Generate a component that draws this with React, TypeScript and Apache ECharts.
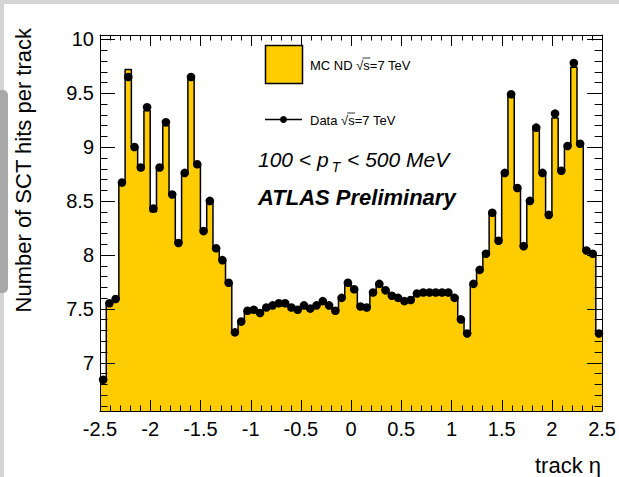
import React, { useEffect, useRef } from "react";
import * as echarts from "echarts";

// Histogram binning in track eta
const etaMin = -2.5;
const etaMax = 2.5;
const binWidth = 0.0625;

// Mean number of SCT hits per track, data (points)
const dataValues = [
  6.84, 7.55, 7.59, 8.67, 9.65, 9.0, 8.81, 9.37, 8.43, 8.81,
  9.23, 8.56, 8.11, 8.76, 9.65, 8.84, 8.22, 8.5, 8.06, 7.95,
  7.74, 7.28, 7.38, 7.48, 7.49, 7.46, 7.51, 7.53, 7.55, 7.55,
  7.51, 7.49, 7.53, 7.5, 7.53, 7.57, 7.53, 7.48, 7.6, 7.74,
  7.68, 7.52, 7.51, 7.65, 7.73, 7.67, 7.62, 7.6, 7.57, 7.58,
  7.64, 7.65, 7.65, 7.65, 7.65, 7.65, 7.6, 7.4, 7.27, 7.73,
  7.86, 8.01, 8.39, 8.13, 8.76, 9.49, 8.62, 8.08, 8.5, 9.18,
  8.76, 8.37, 9.31, 8.78, 9.01, 9.78, 9.03, 8.04, 8.01, 7.27,
];

// Mean number of SCT hits per track, MC non-diffractive (filled histogram)
const mcValues = [
  6.84, 7.55, 7.59, 8.67, 9.72, 9.0, 8.81, 9.34, 8.4, 8.81,
  9.2, 8.56, 8.11, 8.76, 9.63, 8.84, 8.22, 8.5, 8.06, 7.95,
  7.74, 7.28, 7.38, 7.48, 7.49, 7.46, 7.51, 7.53, 7.55, 7.55,
  7.51, 7.49, 7.53, 7.5, 7.53, 7.57, 7.53, 7.48, 7.6, 7.74,
  7.68, 7.52, 7.51, 7.65, 7.73, 7.67, 7.62, 7.6, 7.57, 7.58,
  7.64, 7.65, 7.65, 7.65, 7.65, 7.65, 7.6, 7.4, 7.27, 7.73,
  7.86, 8.01, 8.39, 8.13, 8.76, 9.49, 8.62, 8.08, 8.5, 9.18,
  8.76, 8.37, 9.27, 8.78, 9.01, 9.74, 9.03, 8.04, 8.01, 7.27,
];

const yMin = 6.55;
const yMax = 10.04;

// Tick marks: major every 0.5, minor every 0.1 (values in tenths)
const xTickTenths: number[] = [];
for (let k = -25; k <= 25; k++) xTickTenths.push(k);
const yTickTenths: number[] = [];
for (let k = 66; k <= 100; k++) yTickTenths.push(k);

const FONT = "Liberation Sans";
const FILL = "#ffcc00";

function textWidth(text: string, font: string): number {
  const ctx = document.createElement("canvas").getContext("2d");
  if (!ctx) return text.length * 8;
  ctx.font = font;
  return ctx.measureText(text).width;
}

const px = (v: number) => Math.round(v) + 0.5;

export default function App() {
  const ref = useRef<HTMLDivElement>(null);

  useEffect(() => {
    if (!ref.current) return;
    const chart = echarts.init(ref.current, undefined, { renderer: "svg" });

    // outline of the MC histogram: one flat segment per bin
    const stepData: number[][] = [];
    mcValues.forEach((v, i) => {
      const lo = etaMin + i * binWidth;
      stepData.push([lo, v], [lo + binWidth, v]);
    });
    const points = dataValues.map((v, i) => [etaMin + (i + 0.5) * binWidth, v]);

    const halfStep = (v: number) => Math.abs(v * 2 - Math.round(v * 2)) < 1e-6;

    const xAxisBase = {
      type: "value" as const,
      min: etaMin,
      max: etaMax,
      interval: 0.5,
      z: 10,
      axisLine: { show: true, onZero: false, lineStyle: { color: "#000", width: 1 } },
      axisTick: { show: false },
      minorTick: { show: false },
      splitLine: { show: false },
    };
    const yAxisBase = {
      type: "value" as const,
      min: yMin,
      max: yMax,
      splitNumber: 7,
      minInterval: 0.5,
      maxInterval: 0.5,
      z: 10,
      axisLine: { show: true, onZero: false, lineStyle: { color: "#000", width: 1 } },
      axisTick: { show: false },
      minorTick: { show: false },
      splitLine: { show: false },
    };

    const ptFont = `italic 21px "${FONT}"`;
    const subFont = `italic 14px "${FONT}"`;
    const ptX = 258;
    const w1 = textWidth("100 < p", ptFont);
    const wT = textWidth("T", subFont);

    const legFont = `13px "${FONT}"`;
    const wRoot = textWidth("MC ND \u221a", legFont);
    const wS = textWidth("s", legFont);
    const wRoot2 = textWidth("Data \u221a", legFont);

    const graphicEls: any[] = [
      // page edges
      { type: "rect", shape: { x: 0, y: 0, width: 619, height: 4 }, style: { fill: "#d4d4d4" }, silent: true },
      { type: "rect", shape: { x: 0, y: 0, width: 4, height: 477 }, style: { fill: "#d4d4d4" }, silent: true },
      { type: "rect", shape: { x: -6, y: 90, width: 14, height: 203, r: 5 }, style: { fill: "#a8a8a8" }, silent: true },
      // legend
      {
        type: "rect",
        shape: { x: 265.5, y: 45.5, width: 37, height: 38 },
        style: { fill: FILL, stroke: "#000", lineWidth: 1.5 },
        silent: true,
      },
      {
        type: "text",
        x: 310,
        y: 65,
        style: { text: "MC ND \u221as=7 TeV", font: legFont, fill: "#000", textVerticalAlign: "middle" },
        silent: true,
      },
      {
        type: "line",
        shape: { x1: 310 + wRoot - 1, y1: 58, x2: 310 + wRoot + wS + 0.5, y2: 58 },
        style: { stroke: "#000", lineWidth: 0.8 },
        silent: true,
      },
      {
        type: "line",
        shape: { x1: 265, y1: 119.5, x2: 302, y2: 119.5 },
        style: { stroke: "#000", lineWidth: 1.5 },
        silent: true,
      },
      { type: "circle", shape: { cx: 283.5, cy: 119.5, r: 3.5 }, style: { fill: "#000" }, silent: true },
      {
        type: "text",
        x: 310,
        y: 120,
        style: { text: "Data \u221as=7 TeV", font: legFont, fill: "#000", textVerticalAlign: "middle" },
        silent: true,
      },
      {
        type: "line",
        shape: { x1: 310 + wRoot2 - 1, y1: 113, x2: 310 + wRoot2 + wS + 0.5, y2: 113 },
        style: { stroke: "#000", lineWidth: 0.8 },
        silent: true,
      },
      // kinematic selection
      {
        type: "text",
        x: ptX,
        y: 159,
        style: { text: "100 < p", font: ptFont, fill: "#000", textVerticalAlign: "middle" },
        silent: true,
      },
      {
        type: "text",
        x: ptX + w1 + 3,
        y: 167,
        style: { text: "T", font: subFont, fill: "#000", textVerticalAlign: "middle" },
        silent: true,
      },
      {
        type: "text",
        x: ptX + w1 + wT + 4,
        y: 159,
        style: { text: " < 500 MeV", font: ptFont, fill: "#000", textVerticalAlign: "middle" },
        silent: true,
      },
      {
        type: "text",
        x: 258,
        y: 197,
        style: {
          text: "ATLAS Preliminary",
          font: `italic bold 22px "${FONT}"`,
          fill: "#000",
          textVerticalAlign: "middle",
        },
        silent: true,
      },
      // axis titles
      {
        type: "text",
        x: 23,
        y: 28,
        rotation: Math.PI / 2,
        style: {
          text: "Number of SCT hits per track",
          font: `22px "${FONT}"`,
          fill: "#000",
          textAlign: "right",
          textVerticalAlign: "middle",
        },
        silent: true,
      },
      {
        type: "text",
        x: 601,
        y: 465,
        style: {
          text: "track \u03b7",
          font: `22px "${FONT}"`,
          fill: "#000",
          textAlign: "right",
          textVerticalAlign: "middle",
        },
        silent: true,
      },
    ];

    chart.setOption({
      animation: false,
      backgroundColor: "#fff",
      grid: { left: 100, top: 35, width: 506, height: 376, containLabel: false },
      xAxis: [
        {
          ...xAxisBase,
          position: "bottom",
          axisLabel: {
            show: true,
            margin: 8,
            fontSize: 20,
            color: "#000",
            fontFamily: FONT,
            formatter: (v: number) => String(v),
          },
        },
        { ...xAxisBase, position: "top", axisLabel: { show: false } },
      ],
      yAxis: [
        {
          ...yAxisBase,
          position: "left",
          axisLabel: {
            show: true,
            margin: 6,
            fontSize: 20,
            color: "#000",
            fontFamily: FONT,
            formatter: (v: number) => (halfStep(v) ? String(v) : ""),
          },
        },
        { ...yAxisBase, position: "right", axisLabel: { show: false } },
      ],
      series: [
        {
          // MC filled histogram
          type: "line",
          xAxisIndex: 0,
          yAxisIndex: 0,
          data: stepData,
          symbol: "none",
          silent: true,
          lineStyle: { color: "#000", width: 1.5 },
          areaStyle: { color: FILL, opacity: 1, origin: "start" },
          z: 2,
        },
        {
          // data points
          type: "custom",
          xAxisIndex: 0,
          yAxisIndex: 0,
          data: points,
          silent: true,
          z: 3,
          renderItem: (_params: any, api: any) => {
            const c = api.coord([api.value(0), api.value(1)]);
            return { type: "circle", shape: { cx: c[0], cy: c[1], r: 4.3 }, style: { fill: "#000" } };
          },
        },
      ],
      graphic: graphicEls,
    });

    // inward ticks on all four frame edges, placed through the grid's scales
    try {
      const toPx = (x: number, y: number) =>
        chart.convertToPixel({ xAxisIndex: 0, yAxisIndex: 0 }, [x, y]) as number[];
      let d = "";
      xTickTenths.forEach((k) => {
        const v = k / 10;
        const len = k % 5 === 0 ? 11 : 5.5;
        const b = toPx(v, yMin);
        const t = toPx(v, yMax);
        const x = px(b[0]);
        d += `M${x} ${b[1]} L${x} ${b[1] - len} M${x} ${t[1]} L${x} ${t[1] + len} `;
      });
      yTickTenths.forEach((k) => {
        const v = k / 10;
        const len = k % 5 === 0 ? 15 : 7.5;
        const l = toPx(etaMin, v);
        const r = toPx(etaMax, v);
        const y = px(l[1]);
        d += `M${l[0]} ${y} L${l[0] + len} ${y} M${r[0]} ${y} L${r[0] - len} ${y} `;
      });
      echarts.graphic.registerShape("frameTicks", echarts.graphic.extendPath(d, {}));
      chart.setOption({
        graphic: [
          ...graphicEls,
          {
            type: "frameTicks",
            x: 0,
            y: 0,
            z: 12,
            silent: true,
            style: { stroke: "#000", lineWidth: 1, fill: "none" },
          },
        ],
      });
    } catch (e) {
      // ticks are decorative; keep the chart if they cannot be built
    }

    return () => chart.dispose();
  }, []);

  return (
    <div
      ref={ref}
      style={{ position: "absolute", left: 0, top: 0, width: 619, height: 477, background: "#fff" }}
    />
  );
}
